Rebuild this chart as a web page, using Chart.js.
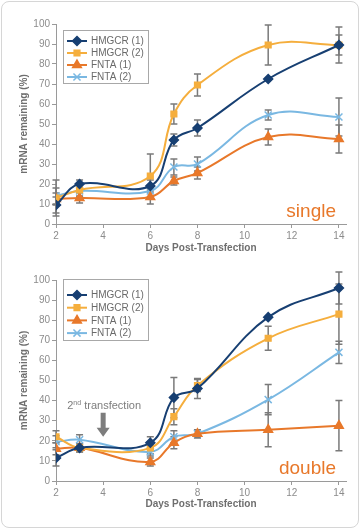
<!DOCTYPE html>
<html lang="en">
<head>
<meta charset="UTF-8">
<title>mRNA remaining</title>
<script src="https://cdn.jsdelivr.net/npm/chart.js"></script>
<style>
  body { margin: 0; background: #fff; font-family: "Liberation Sans", Arial, sans-serif; }
  .frame { position: absolute; left: 1px; top: 1px; width: 356px; height: 525px; border: 1px solid #d6d6d6; border-radius: 8px; }
  canvas { position: absolute; left: 0; }
  #single { top: 0; }
  #double { top: 258px; }
</style>
</head>
<body>
<div class="frame"></div>
<canvas id="single" width="360" height="258"></canvas>
<canvas id="double" width="360" height="256"></canvas>
<script>
const days = [2, 3, 6, 7, 8, 11, 14];
const seriesNames = ['HMGCR (1)', 'HMGCR (2)', 'FNTA (1)', 'FNTA (2)'];
const xTicks = [2, 4, 6, 8, 10, 12, 14];
const yTicks = [0, 10, 20, 30, 40, 50, 60, 70, 80, 90, 100];

// single transfection
const singleHmgcr1 = [9.5, 20, 19, 42, 48, 72.5, 89.5];
const singleHmgcr1Err = [4, 2, 3, 3, 4, 0, 5];
const singleHmgcr2 = [13, 17, 24, 55, 69.5, 89.5, 89.5];
const singleHmgcr2Err = [9, 3, 11, 5, 5.5, 10, 9];
const singleFnta1 = [12.5, 13, 13.5, 21.5, 25.5, 43.5, 42.5];
const singleFnta1Err = [3, 2.5, 3.5, 2, 3, 4, 7];
const singleFnta2 = [14, 16.5, 16.5, 28.5, 30, 54.5, 53.5];
const singleFnta2Err = [4, 3, 3, 4, 3.5, 2.5, 9.5];

// double transfection
const doubleHmgcr1 = [11.5, 16.5, 19, 41.5, 46, 81.5, 96];
const doubleHmgcr1Err = [4, 2, 3, 10, 5, 0, 8];
const doubleHmgcr2 = [22, 16.5, 16.5, 32, 47.5, 71, 83];
const doubleHmgcr2Err = [3, 2, 3, 4, 3, 6, 15];
const doubleFnta1 = [16, 16.5, 9.5, 19, 23.5, 25.5, 27.5];
const doubleFnta1Err = [3, 2, 2, 3, 2, 8.5, 12.5];
const doubleFnta2 = [19.5, 20.5, 14.5, 22, 23.5, 40.5, 64];
const doubleFnta2Err = [3, 2.5, 2, 3, 2, 7.5, 5.5];

const colors = ['#173f72', '#f5ae3d', '#e8782a', '#7ab8e2'];
const markers = ['rectRot', 'rect', 'triangle', 'crossRot'];
const markerSize = [4.5, 4, 5, 5];

const greyText = '#8c8c8c';
const titleGrey = '#6e6e6e';
const axisGrey = '#9a9a9a';

// error bars, drawn under the lines
const errorBars = {
  id: 'errorBars',
  beforeDatasetsDraw(chart) {
    const ctx = chart.ctx;
    const xs = chart.scales.x, ys = chart.scales.y;
    ctx.save();
    ctx.strokeStyle = '#7a7a7a';
    ctx.lineWidth = 1.5;
    chart.data.datasets.forEach(ds => {
      ds.data.forEach((p, i) => {
        const e = ds.err[i];
        if (!e) return;
        const x = xs.getPixelForValue(p.x);
        const y1 = ys.getPixelForValue(p.y + e);
        const y2 = ys.getPixelForValue(p.y - e);
        ctx.beginPath();
        ctx.moveTo(x, y1); ctx.lineTo(x, y2);
        ctx.moveTo(x - 3.5, y1); ctx.lineTo(x + 3.5, y1);
        ctx.moveTo(x - 3.5, y2); ctx.lineTo(x + 3.5, y2);
        ctx.stroke();
      });
    });
    ctx.restore();
  }
};

// boxed legend inside the plot
const legendBox = {
  id: 'legendBox',
  afterDraw(chart, args, opts) {
    const ctx = chart.ctx;
    const x = opts.x, y = opts.y;
    ctx.save();
    ctx.fillStyle = '#fff';
    ctx.fillRect(x, y, opts.w, opts.h);
    ctx.strokeStyle = '#a8a8a8';
    ctx.lineWidth = 1;
    ctx.strokeRect(x + 0.5, y + 0.5, opts.w, opts.h);
    ctx.font = '10px "Liberation Sans", Arial, sans-serif';
    ctx.textBaseline = 'middle';
    chart.data.datasets.forEach((ds, i) => {
      const cy = opts.first + i * opts.gap;
      ctx.strokeStyle = ds.borderColor;
      ctx.lineWidth = 2;
      ctx.beginPath();
      ctx.moveTo(x + 4, cy); ctx.lineTo(x + 24, cy);
      ctx.stroke();
      ctx.fillStyle = ds.pointBackgroundColor;
      ctx.strokeStyle = ds.pointBorderColor;
      ctx.lineWidth = 1.5;
      Chart.helpers.drawPoint(ctx, { pointStyle: ds.pointStyle, radius: ds.pointRadius, borderWidth: 1.5, rotation: 0 }, x + 14, cy);
      ctx.fillStyle = '#6a6a6a';
      ctx.fillText(ds.label, x + 28, cy + 0.5);
    });
    ctx.restore();
  }
};

// "single"/"double" word and the 2nd transfection arrow
const notes = {
  id: 'notes',
  afterDatasetsDraw(chart, args, opts) {
    const ctx = chart.ctx;
    const a = chart.chartArea;
    ctx.save();
    ctx.fillStyle = '#e8782a';
    ctx.font = '19px "Liberation Sans", Arial, sans-serif';
    ctx.textAlign = 'right';
    ctx.textBaseline = 'alphabetic';
    ctx.fillText(opts.word, a.right - 10, a.bottom - 7);
    if (opts.arrow) {
      const xs = chart.scales.x, ys = chart.scales.y;
      const ax = xs.getPixelForValue(opts.arrow.day);
      const ty = ys.getPixelForValue(opts.arrow.text);
      const y1 = ys.getPixelForValue(opts.arrow.from);
      const y2 = ys.getPixelForValue(opts.arrow.to);
      ctx.fillStyle = '#7d7d7d';
      ctx.textAlign = 'left';
      ctx.textBaseline = 'middle';
      ctx.font = '11px "Liberation Sans", Arial, sans-serif';
      const w2 = ctx.measureText('2').width;
      const rest = ' transfection';
      const wr = ctx.measureText(rest).width;
      ctx.font = '7px "Liberation Sans", Arial, sans-serif';
      const wnd = ctx.measureText('nd').width;
      let tx = ax + 1 - (w2 + wnd + wr) / 2;
      ctx.font = '11px "Liberation Sans", Arial, sans-serif';
      ctx.fillText('2', tx, ty);
      ctx.font = '7px "Liberation Sans", Arial, sans-serif';
      ctx.fillText('nd', tx + w2, ty - 3);
      ctx.font = '11px "Liberation Sans", Arial, sans-serif';
      ctx.fillText(rest, tx + w2 + wnd, ty);
      ctx.beginPath();
      ctx.moveTo(ax - 2.5, y1);
      ctx.lineTo(ax + 2.5, y1);
      ctx.lineTo(ax + 2.5, y2 - 9);
      ctx.lineTo(ax + 6.5, y2 - 9);
      ctx.lineTo(ax, y2);
      ctx.lineTo(ax - 6.5, y2 - 9);
      ctx.lineTo(ax - 2.5, y2 - 9);
      ctx.closePath();
      ctx.fill();
    }
    ctx.restore();
  }
};

function makeSets(values, errs) {
  return values.map((vals, k) => ({
    label: seriesNames[k],
    data: days.map((d, i) => ({ x: d, y: vals[i] })),
    err: errs[k],
    borderColor: colors[k],
    backgroundColor: colors[k],
    pointBackgroundColor: colors[k],
    pointBorderColor: colors[k],
    pointStyle: markers[k],
    pointRadius: markerSize[k],
    pointBorderWidth: 1.5,
    borderWidth: 2,
    tension: 0.4
  }));
}

function makeChart(id, sets, topPad, axisH, legend, note) {
  return new Chart(document.getElementById(id), {
    type: 'line',
    data: { datasets: sets },
    plugins: [errorBars, legendBox, notes],
    options: {
      responsive: false,
      animation: false,
      layout: { padding: { top: topPad, left: 14, right: 14, bottom: 0 } },
      plugins: {
        legend: { display: false },
        tooltip: { enabled: false },
        legendBox: legend,
        notes: note
      },
      scales: {
        x: {
          type: 'linear',
          min: 2,
          max: 14.3,
          afterBuildTicks: s => { s.ticks = xTicks.map(v => ({ value: v })); },
          afterFit: s => { s.height = axisH; },
          grid: { drawOnChartArea: false, tickLength: 4, color: axisGrey },
          border: { color: axisGrey },
          ticks: { color: greyText, font: { size: 10, family: '"Liberation Sans", Arial' }, padding: 2, maxRotation: 0 },
          title: { display: true, text: 'Days Post-Transfection', color: titleGrey, font: { size: 10, weight: 'bold', family: '"Liberation Sans", Arial' } }
        },
        y: {
          min: 0,
          max: 100,
          afterBuildTicks: s => { s.ticks = yTicks.map(v => ({ value: v })); },
          afterFit: s => { s.width = 42; },
          grid: { drawOnChartArea: false, tickLength: 4, color: axisGrey },
          border: { color: axisGrey },
          ticks: { color: greyText, font: { size: 10, family: '"Liberation Sans", Arial' }, padding: 2 },
          title: { display: true, text: 'mRNA remaining (%)', color: titleGrey, font: { size: 10, weight: 'bold', family: '"Liberation Sans", Arial' } }
        }
      }
    }
  });
}

makeChart('single',
  makeSets([singleHmgcr1, singleHmgcr2, singleFnta1, singleFnta2],
           [singleHmgcr1Err, singleHmgcr2Err, singleFnta1Err, singleFnta2Err]),
  24, 34,
  { x: 63, y: 30, w: 85, h: 53, first: 41, gap: 12 },
  { word: 'single' });

makeChart('double',
  makeSets([doubleHmgcr1, doubleHmgcr2, doubleFnta1, doubleFnta2],
           [doubleHmgcr1Err, doubleHmgcr2Err, doubleFnta1Err, doubleFnta2Err]),
  22, 33,
  { x: 63, y: 21, w: 85, h: 61, first: 37, gap: 12.7 },
  { word: 'double', arrow: { day: 4, text: 37.5, from: 34, to: 22 } });
</script>
</body>
</html>
